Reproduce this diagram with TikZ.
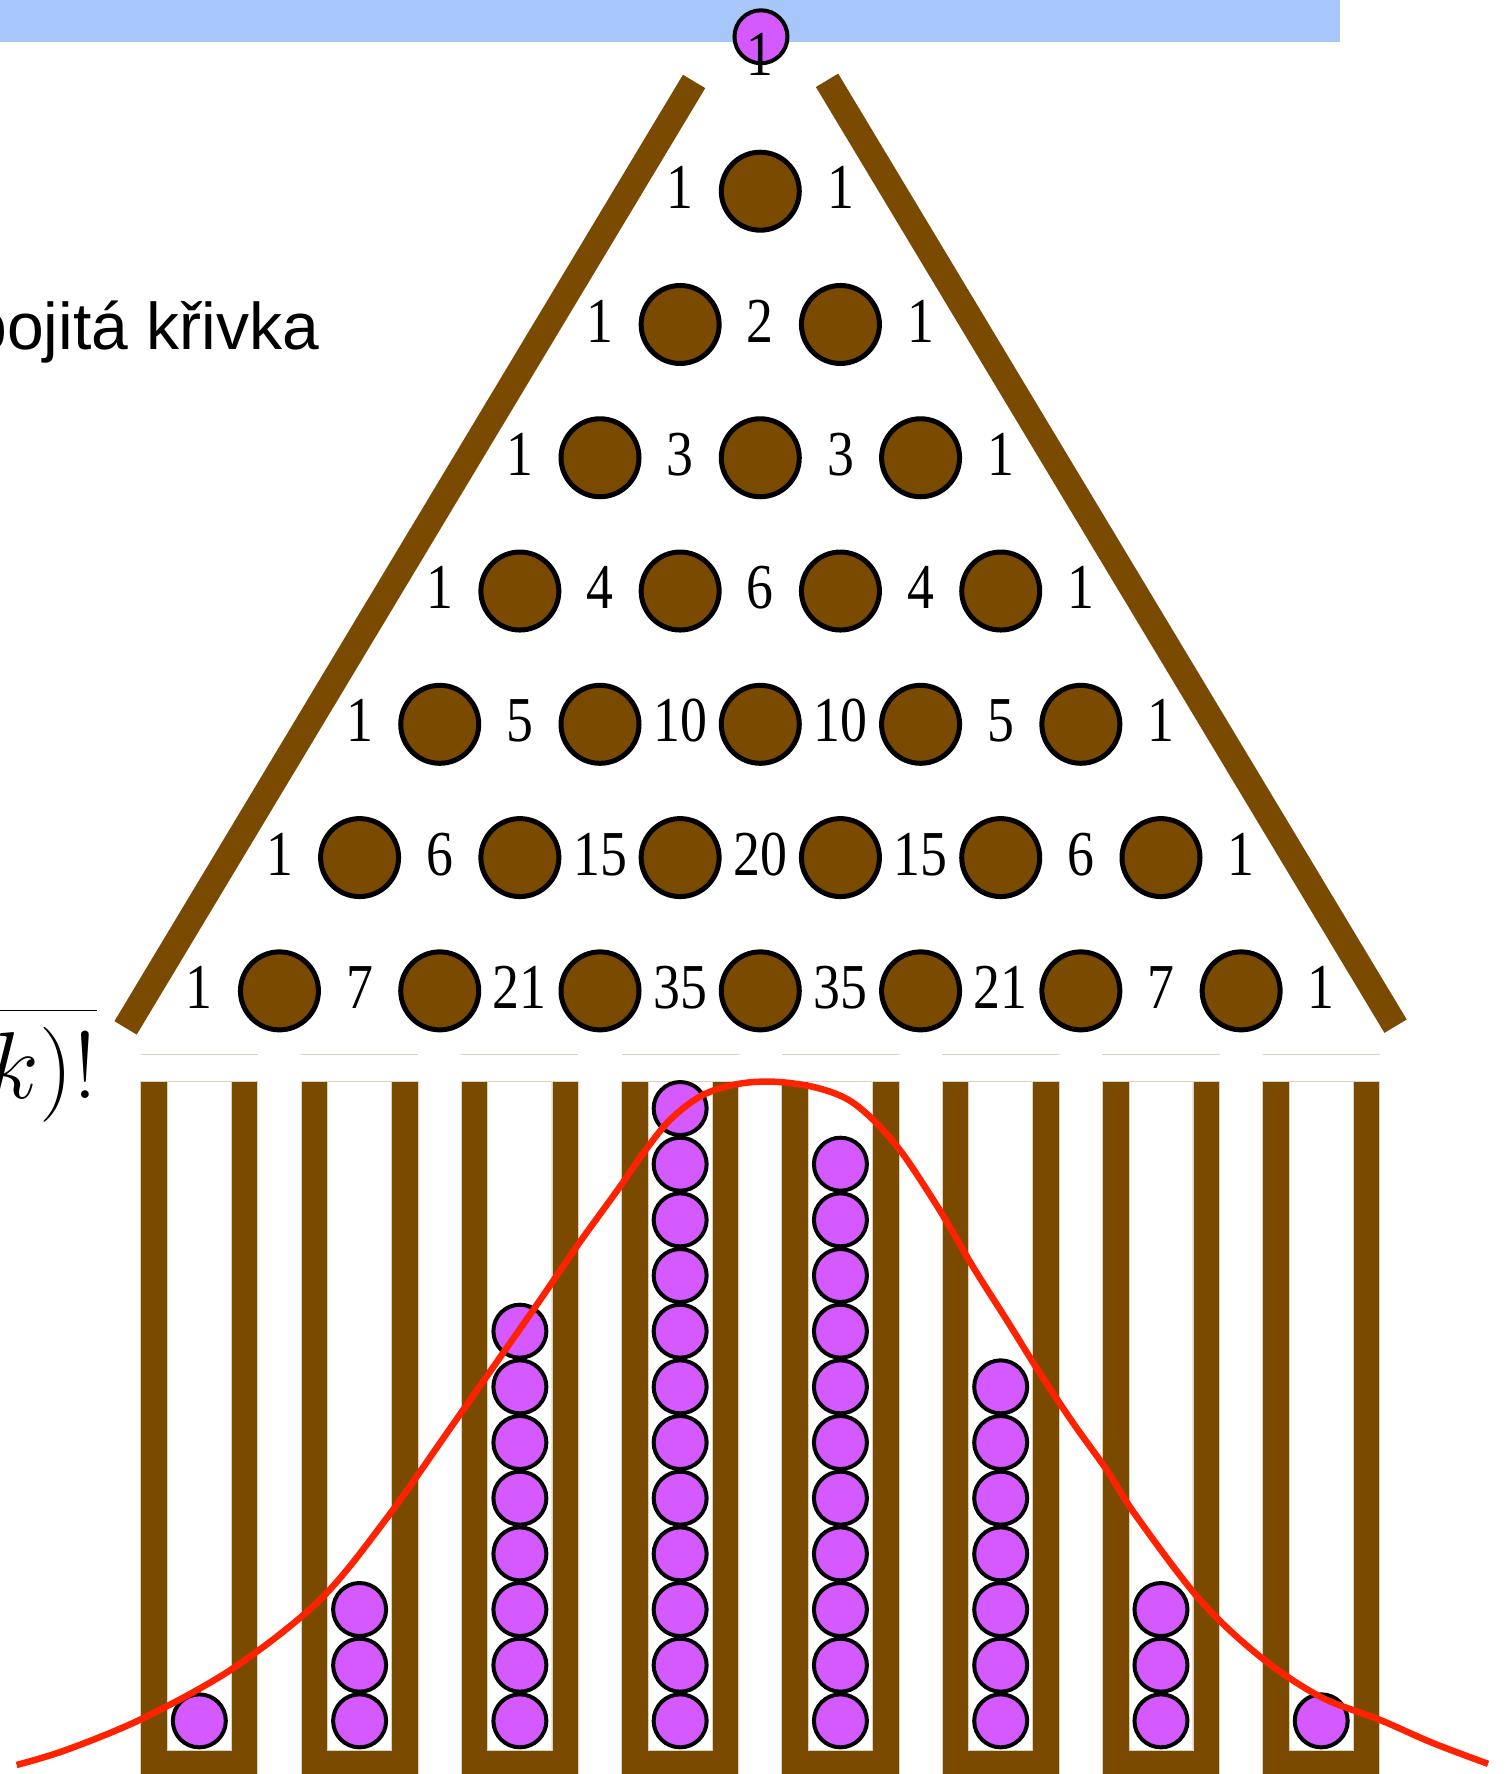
\RequirePackage{fix-cm}
\documentclass[tikz,border=0pt]{standalone}
\usepackage{graphicx}
\usepackage{fontspec}
\newfontfamily\numfont{Liberation Serif}
\newfontfamily\labelfont{Liberation Sans}

\definecolor{wood}{RGB}{122,74,0}
\definecolor{bead}{RGB}{212,89,255}
\definecolor{banner}{RGB}{167,199,250}
\definecolor{curvered}{RGB}{255,34,0}
\definecolor{rim}{RGB}{222,208,190}

\tikzset{
  pegnode/.style={circle, draw=black, fill=wood, line width=5pt,
                  inner sep=0pt, minimum size=78pt},
  beadnode/.style={circle, draw=black, fill=bead, line width=4pt,
                   inner sep=0pt, minimum size=53pt},
  countnode/.style={anchor=base, inner sep=0pt,
                    font=\fontsize{64}{64}\selectfont\numfont},
  wall/.style={wood, line width=26pt},
  bin/.style={fill=wood, draw=rim, line width=0.8pt, even odd rule},
  lid/.style={rim, line width=1pt},
  bell/.style={curvered, line width=6.5pt},
}

\begin{document}
\begin{tikzpicture}[x=1.1315pt, y=-1.1315pt]
  \useasboundingbox (0,0) rectangle (1331,1568);
  \clip (0,0) rectangle (1331,1568);

  % banner strip along the top
  \fill[banner] (0,0) rectangle (1184.5,37);

  % caption, partly running off the left edge
  \node[anchor=base east, inner sep=0pt] (caption) at (282,308.5)
    {\fontsize{66}{66}\selectfont\labelfont spojitá křivka};

  % binomial coefficient formula, partly running off the left edge
  \node[anchor=base east, inner sep=0pt] (formula) at (86.8,913.6)
    {\fontsize{95}{95}\selectfont$\displaystyle\frac{n!}{k!\,(n-k)!}$};

  % side walls of the board
  \draw[wall] (613.5,72) -- (111,908.5);
  \draw[wall] (731,71) -- (1233.5,907);

  % pegs
  \foreach \r in {1,...,7} {
    \pgfmathtruncatemacro\last{\r-1}
    \foreach \i in {0,...,\last} {
      \node[pegnode] (peg-\r-\i) at ({672+141.67*(\i-(\r-1)/2)}, {169+117.8*(\r-1)}) {};
    }
  }

  % the dropped bead above the first peg
  \node[beadnode] (drop) at (672.6,32.5) {};

  % Pascal's triangle counts between the pegs
  \foreach \r/\vals in {0/{1}, 1/{1,1}, 2/{1,2,1}, 3/{1,3,3,1}, 4/{1,4,6,4,1},
                        5/{1,5,10,10,5,1}, 6/{1,6,15,20,15,6,1},
                        7/{1,7,21,35,35,21,7,1}} {
    \foreach \v [count=\j from 0] in \vals {
      \node[countnode] (count-\r-\j) at ({672+141.67*(\j-\r/2)}, {169+117.8*(\r-1)+15.5})
        {\scalebox{0.84}[1]{\v}};
    }
  }

  % collecting bins with their beads
  \foreach \k/\n in {1/1, 2/3, 3/8, 4/12, 5/11, 6/7, 7/3, 8/1} {
    \pgfmathsetmacro\cx{672+70.83*(2*\k-9)}
    \draw[lid] (\cx-51.75,932) -- (\cx+51.75,932);
    \filldraw[bin] (\cx-51.75,956) rectangle (\cx+51.75,1620)
                   (\cx-28.3,956) rectangle (\cx+28.3,1547.5);
    \foreach \m in {1,...,\n} {
      \node[beadnode] (bead-\k-\m) at (\cx, {1521-49.2*(\m-1)}) {};
    }
  }

  % bell curve over the bins
  \draw[bell] plot[smooth, tension=0.55] coordinates {
    (14.7,1560) (58.9,1546.6) (126.7,1518.6) (206.2,1474.4) (282.8,1414)
    (341.8,1341.9) (402.1,1256.5) (471.3,1157.8) (509.7,1101.8)
    (548,1048.8) (568,1020) (592,990) (620,968.5) (650,958.5) (682,956)
    (718,960.5) (748,971) (772,990) (798,1020) (830.8,1070)
    (860.2,1120) (889.7,1166.6) (919.1,1213.7) (948.6,1257.9)
    (978.1,1299.2) (1004.6,1340.4) (1060.5,1414) (1113.6,1464.1)
    (1166.6,1499.5) (1219.6,1520.1) (1266.7,1540.7) (1315.3,1559)};
\end{tikzpicture}
\end{document}
